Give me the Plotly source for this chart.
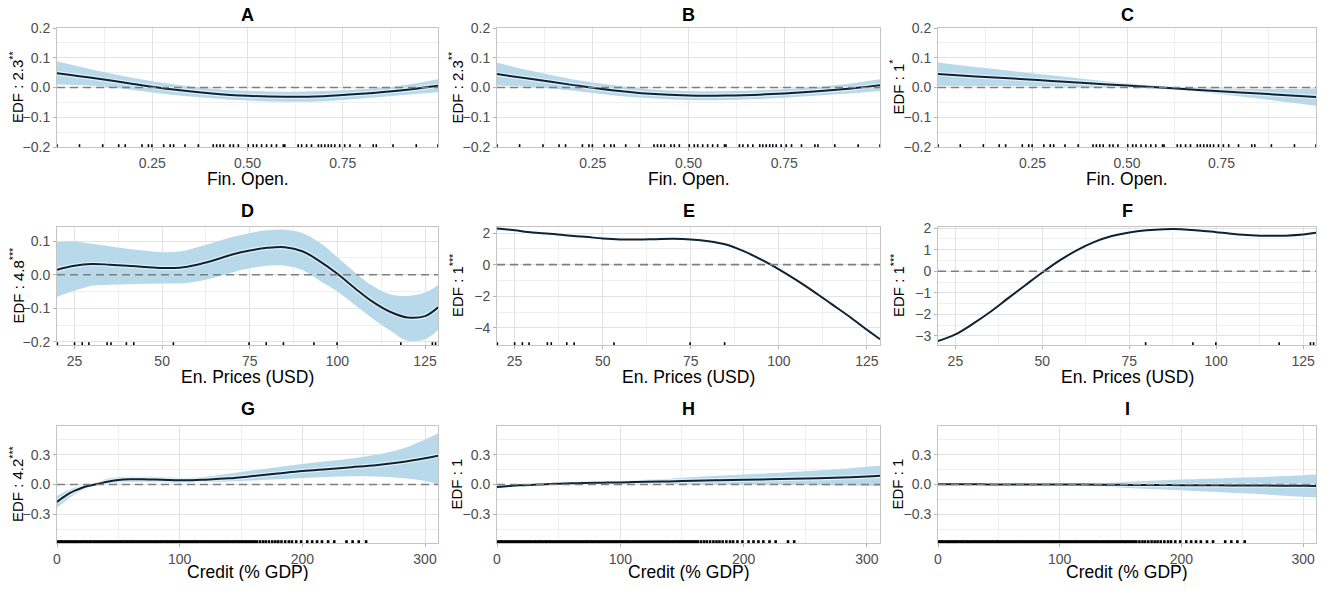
"""Partial effect plots (GAM smooths) for three regimes and three covariates

Draws a 3x3 grid: financial openness, energy prices and credit, each with
fitted smooth, confidence band, zero reference line and a rug of observations.
"""
import plotly.graph_objects as go
from plotly.subplots import make_subplots

# the page body has an 8px margin, so the figure is drawn 8px in from the corner
OFF = 8
W, H = 1325 - 2 * OFF, 589 - 2 * OFF

# ---- Financial openness (row 1) ----
FIN_X = [0.0, 0.1, 0.2, 0.3, 0.4, 0.5, 0.6, 0.7, 0.8, 0.9, 1.0]
A_FIT = [0.048, 0.031, 0.012, -0.006, -0.019, -0.028, -0.031, -0.029, -0.021, -0.010, 0.006]
A_UP = [0.088, 0.058, 0.032, 0.012, -0.003, -0.011, -0.014, -0.012, -0.006, 0.006, 0.028]
A_LO = [0.010, 0.005, -0.008, -0.024, -0.035, -0.044, -0.048, -0.046, -0.037, -0.026, -0.016]
B_FIT = [0.045, 0.027, 0.008, -0.009, -0.021, -0.027, -0.027, -0.023, -0.016, -0.006, 0.008]
B_UP = [0.083, 0.053, 0.027, 0.008, -0.006, -0.012, -0.012, -0.008, -0.002, 0.010, 0.028]
B_LO = [0.007, 0.001, -0.011, -0.026, -0.036, -0.042, -0.042, -0.038, -0.030, -0.022, -0.012]
C_FIT = [0.045, 0.037, 0.030, 0.022, 0.014, 0.007, -0.001, -0.009, -0.017, -0.024, -0.032]
C_UP = [0.084, 0.069, 0.055, 0.041, 0.027, 0.014, 0.004, -0.002, -0.004, -0.005, -0.003]
C_LO = [0.006, 0.005, 0.005, 0.003, 0.001, 0.000, -0.006, -0.016, -0.030, -0.045, -0.061]
FIN_RUG = [0.0, 0.059, 0.12, 0.162, 0.179, 0.223, 0.24, 0.249, 0.28, 0.297, 0.306,
           0.336, 0.371, 0.41, 0.419, 0.428, 0.437, 0.454, 0.463, 0.476, 0.502,
           0.515, 0.524, 0.537, 0.55, 0.563, 0.576, 0.594, 0.598, 0.633, 0.642,
           0.655, 0.668, 0.686, 0.694, 0.703, 0.712, 0.72, 0.729, 0.742, 0.755,
           0.769, 0.795, 0.83, 0.838, 0.882, 0.943, 1.0]

# ---- Energy prices (row 2) ----
ENP_X = [20, 25, 30, 35, 40, 45, 50, 55, 60, 65, 70, 75, 80, 85, 90, 95, 100,
         105, 110, 115, 120, 125, 128.7]
D_FIT = [0.015, 0.027, 0.032, 0.030, 0.027, 0.023, 0.020, 0.021, 0.030, 0.044, 0.060,
         0.072, 0.080, 0.082, 0.070, 0.040, 0.003, -0.040, -0.080, -0.110, -0.127,
         -0.123, -0.097]
D_UP = [0.097, 0.099, 0.092, 0.085, 0.077, 0.071, 0.067, 0.069, 0.082, 0.097, 0.112,
        0.124, 0.132, 0.134, 0.124, 0.095, 0.052, 0.007, -0.033, -0.058, -0.063,
        -0.053, -0.031]
D_LO = [-0.066, -0.048, -0.033, -0.030, -0.028, -0.027, -0.026, -0.026, -0.020, -0.008,
        0.007, 0.019, 0.027, 0.027, 0.014, -0.018, -0.050, -0.090, -0.130, -0.166,
        -0.196, -0.192, -0.165]
E_FIT = [2.29, 2.17, 2.04, 1.95, 1.84, 1.76, 1.65, 1.59, 1.59, 1.61, 1.63, 1.59, 1.48,
         1.27, 0.85, 0.32, -0.30, -0.98, -1.72, -2.50, -3.28, -4.12, -4.72]
F_FIT = [-3.24, -2.93, -2.44, -1.89, -1.27, -0.66, -0.06, 0.50, 0.98, 1.36, 1.63, 1.80,
         1.90, 1.95, 1.95, 1.89, 1.81, 1.73, 1.67, 1.64, 1.65, 1.70, 1.78]
ENP_RUG_D = [20.1, 25, 27.2, 29.1, 34.3, 35.4, 39.8, 41.9, 53.2, 74.8, 79.7, 84.6,
             93.3, 99.9, 118.1, 127.1, 128.0]
ENP_RUG_E = [20.1, 25, 27.2, 29.1, 34.3, 35.4, 39.8, 41.9, 53.2, 74.8, 84.6]
ENP_RUG_F = [79.7, 93.3, 99.9, 118.1, 127.1, 128.0]

# ---- Credit (row 3) ----
CRED_X = [0, 5, 10, 15, 20, 25, 30, 35, 40, 50, 60, 70, 80, 90, 100, 110, 120, 140,
          160, 180, 200, 220, 240, 260, 280, 300, 310.6]
G_FIT = [-0.175, -0.130, -0.090, -0.060, -0.035, -0.015, -0.003, 0.010, 0.025, 0.045,
         0.052, 0.052, 0.050, 0.046, 0.043, 0.043, 0.048, 0.062, 0.085, 0.110, 0.135,
         0.155, 0.175, 0.195, 0.225, 0.265, 0.290]
G_UP = [-0.115, -0.080, -0.052, -0.030, -0.012, 0.000, 0.012, 0.030, 0.055, 0.072,
        0.078, 0.078, 0.075, 0.070, 0.066, 0.068, 0.076, 0.108, 0.143, 0.175, 0.208,
        0.235, 0.262, 0.300, 0.355, 0.455, 0.515]
G_LO = [-0.235, -0.185, -0.135, -0.095, -0.060, -0.032, -0.015, -0.005, 0.005, 0.020,
        0.025, 0.025, 0.022, 0.020, 0.018, 0.020, 0.024, 0.030, 0.040, 0.052, 0.065,
        0.075, 0.082, 0.080, 0.065, 0.035, 0.000]
H_FIT = [-0.024, -0.019, -0.015, -0.010, -0.008, -0.005, -0.003, 0.000, 0.003, 0.008,
         0.012, 0.016, 0.018, 0.019, 0.021, 0.024, 0.027, 0.031, 0.038, 0.043, 0.047,
         0.052, 0.057, 0.062, 0.070, 0.080, 0.088]
H_UP = [-0.010, -0.008, -0.006, -0.004, -0.003, -0.001, 0.000, 0.002, 0.006, 0.012,
        0.018, 0.022, 0.026, 0.030, 0.034, 0.042, 0.048, 0.058, 0.075, 0.088, 0.100,
        0.114, 0.127, 0.140, 0.158, 0.180, 0.190]
H_LO = [-0.040, -0.032, -0.026, -0.020, -0.016, -0.012, -0.010, -0.007, -0.004, -0.001,
        0.002, 0.004, 0.006, 0.007, 0.007, 0.007, 0.007, 0.006, 0.004, 0.002, 0.000,
        -0.003, -0.005, -0.007, -0.010, -0.013, -0.017]
I_FIT = [0.003, 0.003, 0.003, 0.002, 0.002, 0.002, 0.002, 0.002, 0.001, 0.001, 0.001,
         0.001, 0.000, 0.000, 0.000, -0.001, -0.001, -0.002, -0.004, -0.005, -0.007,
         -0.008, -0.009, -0.010, -0.012, -0.013, -0.015]
I_UP = [0.010, 0.009, 0.008, 0.008, 0.007, 0.007, 0.006, 0.006, 0.006, 0.005, 0.005,
        0.004, 0.004, 0.003, 0.003, 0.006, 0.010, 0.018, 0.030, 0.040, 0.050, 0.058,
        0.066, 0.072, 0.084, 0.094, 0.100]
I_LO = [-0.007, -0.006, -0.005, -0.004, -0.004, -0.004, -0.004, -0.004, -0.004, -0.004,
        -0.004, -0.004, -0.005, -0.005, -0.006, -0.010, -0.015, -0.023, -0.038, -0.047,
        -0.057, -0.070, -0.082, -0.094, -0.110, -0.124, -0.130]
CRED_RUG = [0.4, 1.8, 3.1, 4.5, 6.2, 7.7, 9.0, 10.6, 12.3, 13.9, 15.2, 16.8, 18.5, 20.1,
            21.7, 23.4, 24.9, 26.6, 28.0, 29.8, 31.3, 32.9, 34.6, 36.0, 37.7, 39.3,
            40.8, 42.5, 44.0, 45.6, 47.3, 48.7, 50.4, 52.0, 53.5, 55.1, 56.8, 58.3,
            60.0, 61.4, 63.1, 64.7, 66.2, 67.9, 69.4, 71.0, 72.6, 74.1, 75.8, 77.3,
            78.9, 80.6, 82.0, 83.7, 85.3, 86.8, 88.5, 90.0, 91.6, 93.2, 94.7, 96.4,
            97.9, 99.5, 101.2, 102.7, 104.3, 105.9, 107.4, 109.1, 110.6, 112.2, 113.8,
            115.3, 117.0, 118.5, 120.1, 121.8, 123.3, 124.9, 126.5, 128.0, 129.7,
            131.2, 132.8, 134.5, 136.0, 137.6, 139.2, 140.7, 142.4, 143.9, 145.5,
            147.1, 148.6, 150.3, 151.8, 153.4, 155.1, 156.6, 158.2, 159.8, 161.3,
            163.0, 165.5, 168.0, 170.2, 172.8, 175.5, 178.0, 180.4, 183.0, 186.0,
            189.0, 191.5, 195.0, 199.0, 204.0, 208.0, 212.0, 216.0, 221.0, 226.0,
            236.0, 241.0, 246.0, 252.0]
CRED_RUG_H = [v for v in CRED_RUG if v <= 242]

# ---- Axis ticks ----
FIN_TICKS = [0.25, 0.5, 0.75]
FIN_MINOR = [0.125, 0.375, 0.625, 0.875]
ENP_TICKS = [25, 50, 75, 100, 125]
ENP_MINOR = [37.5, 62.5, 87.5, 112.5]
CRED_TICKS = [0, 100, 200, 300]
CRED_MINOR = [50, 150, 250]

TITLES = ['A', 'B', 'C', 'D', 'E', 'F', 'G', 'H', 'I']
YLABELS = ['EDF : 2.3<sup>**</sup>', 'EDF : 2.3<sup>**</sup>', 'EDF : 1<sup>*</sup>',
           'EDF : 4.8<sup>***</sup>', 'EDF : 1<sup>***</sup>', 'EDF : 1<sup>***</sup>',
           'EDF : 4.2<sup>***</sup>', 'EDF : 1', 'EDF : 1']
XLABELS = ['Fin. Open.', 'En. Prices (USD)', 'Credit (% GDP)']

# panel geometry in screen pixels (plot area)
COL_PX = [(57, 438), (497, 880), (938, 1316)]
ROW_PX = [(28, 147), (227, 345), (426, 543)]
TITLE_Y = [15.5, 211, 409]
XLAB_Y = [179, 377, 572]
YLAB_X = [16.5, 456, 897]

BAND = 'rgb(184,217,234)'
LINE = '#0d2233'
FONT = 'Liberation Sans, Arial, sans-serif'


def px_x(p):
    return (p - OFF) / W


def px_y(p):
    return 1 - (p - OFF) / H


def add_panel(fig, row, col, x, fit, up, lo, rug, yrange):
    """Adds one smooth with band, rug and zero line to a subplot"""
    if up is not None:
        fig.add_trace(go.Scatter(x=x, y=up, mode='lines', line=dict(width=0),
                                 line_shape='spline', hoverinfo='skip'), row=row, col=col)
        fig.add_trace(go.Scatter(x=x, y=lo, mode='lines', line=dict(width=0),
                                 line_shape='spline', fill='tonexty', fillcolor=BAND,
                                 hoverinfo='skip'), row=row, col=col)
    fig.add_trace(go.Scatter(x=x, y=fit, mode='lines', line=dict(color='white', width=4.5),
                             opacity=0.6, line_shape='spline', hoverinfo='skip'),
                  row=row, col=col)
    fig.add_trace(go.Scatter(x=x, y=fit, mode='lines', line=dict(color=LINE, width=2),
                             line_shape='spline'), row=row, col=col)
    # rug along the bottom of the panel
    fig.add_trace(go.Scatter(x=rug, y=[yrange[0]] * len(rug), mode='markers',
                             marker=dict(symbol='line-ns', size=4,
                                         line=dict(width=2.6 if row == 3 else 1.6,
                                                   color='black'))),
                  row=row, col=col)
    fig.add_hline(y=0, line=dict(color='#7f7f7f', width=1.6, dash='8px,5px'),
                  row=row, col=col)


def style_axes(fig, n, xrange, xticks, xminor, xfmt, yrange, yticks, yminor, yfmt, r, c):
    """Applies the light ggplot-like theme to one pair of axes"""
    common = dict(showline=True, mirror=True, linecolor='#c4c4c4', linewidth=1,
                  gridcolor='#e2e2e2', gridwidth=1, zeroline=False, ticks='outside',
                  ticklen=3, tickcolor='#b3b3b3', automargin=False,
                  tickfont=dict(family=FONT, size=14, color='#4d4d4d'))
    fig.update_layout({
        'xaxis' + n: dict(common, range=xrange, tickvals=xticks, tickformat=xfmt,
                          domain=[px_x(COL_PX[c][0]), px_x(COL_PX[c][1])],
                          minor=dict(tickvals=xminor, showgrid=True, gridcolor='#efefef',
                                     gridwidth=0.7, ticks='')),
        'yaxis' + n: dict(common, range=yrange, tickvals=yticks, tickformat=yfmt,
                          domain=[px_y(ROW_PX[r][1]), px_y(ROW_PX[r][0])],
                          minor=dict(tickvals=yminor, showgrid=True, gridcolor='#efefef',
                                     gridwidth=0.7, ticks='')),
    })


def main():
    fig = make_subplots(rows=3, cols=3)

    fin_y = [-0.2, 0.2]
    cred_y = [-0.59, 0.59]
    enp_x = [20, 128.7]
    cred_x = [0, 310.6]
    panels = [
        (FIN_X, A_FIT, A_UP, A_LO, FIN_RUG, [0, 1], fin_y),
        (FIN_X, B_FIT, B_UP, B_LO, FIN_RUG, [0, 1], fin_y),
        (FIN_X, C_FIT, C_UP, C_LO, FIN_RUG, [0, 1], fin_y),
        (ENP_X, D_FIT, D_UP, D_LO, ENP_RUG_D, enp_x, [-0.209, 0.142]),
        (ENP_X, E_FIT, None, None, ENP_RUG_E, enp_x, [-5.08, 2.38]),
        (ENP_X, F_FIT, None, None, ENP_RUG_F, enp_x, [-3.42, 2.05]),
        (CRED_X, G_FIT, G_UP, G_LO, CRED_RUG, cred_x, cred_y),
        (CRED_X, H_FIT, H_UP, H_LO, CRED_RUG_H, cred_x, cred_y),
        (CRED_X, I_FIT, I_UP, I_LO, CRED_RUG, cred_x, cred_y),
    ]
    xticks = [(FIN_TICKS, FIN_MINOR, '.2f'), (ENP_TICKS, ENP_MINOR, 'd'),
              (CRED_TICKS, CRED_MINOR, 'd')]
    yticks = [([-0.2, -0.1, 0, 0.1, 0.2], [-0.15, -0.05, 0.05, 0.15], '.1f'),
              ([-0.2, -0.1, 0, 0.1, 0.2], [-0.15, -0.05, 0.05, 0.15], '.1f'),
              ([-0.2, -0.1, 0, 0.1, 0.2], [-0.15, -0.05, 0.05, 0.15], '.1f'),
              ([-0.2, -0.1, 0, 0.1], [-0.15, -0.05, 0.05], '.1f'),
              ([-4, -2, 0, 2], [-3, -1, 1], 'd'),
              ([-3, -2, -1, 0, 1, 2], [-2.5, -1.5, -0.5, 0.5, 1.5], 'd'),
              ([-0.3, 0, 0.3], [-0.45, -0.15, 0.15, 0.45], '.1f'),
              ([-0.3, 0, 0.3], [-0.45, -0.15, 0.15, 0.45], '.1f'),
              ([-0.3, 0, 0.3], [-0.45, -0.15, 0.15, 0.45], '.1f')]

    annotations = []
    for i, (x, fit, up, lo, rug, xr, yr) in enumerate(panels):
        r, c = divmod(i, 3)
        add_panel(fig, r + 1, c + 1, x, fit, up, lo, rug, yr)
        n = '' if i == 0 else str(i + 1)
        xt, xm, xf = xticks[r]
        yt, ym, yf = yticks[i]
        style_axes(fig, n, xr, xt, xm, xf, yr, yt, ym, yf, r, c)

        xc = px_x((COL_PX[c][0] + COL_PX[c][1]) / 2)
        yc = px_y((ROW_PX[r][0] + ROW_PX[r][1]) / 2)
        label = dict(xref='paper', yref='paper', showarrow=False,
                     xanchor='center', yanchor='middle')
        annotations.append(dict(label, text='<b>' + TITLES[i] + '</b>', x=xc,
                                y=px_y(TITLE_Y[r]),
                                font=dict(family=FONT, size=18, color='black')))
        annotations.append(dict(label, text=XLABELS[r], x=xc, y=px_y(XLAB_Y[r]),
                                font=dict(family=FONT, size=17.5, color='black')))
        annotations.append(dict(label, text=YLABELS[i], x=px_x(YLAB_X[c]), y=yc,
                                textangle=-90,
                                font=dict(family=FONT, size=15, color='black')))

    fig.update_layout(width=W, height=H, margin=dict(l=0, r=0, t=0, b=0),
                      template='none', showlegend=False, plot_bgcolor='white',
                      paper_bgcolor='white', annotations=annotations,
                      font=dict(family=FONT))
    fig.write_html('out.html')


if __name__ == '__main__':
    main()
